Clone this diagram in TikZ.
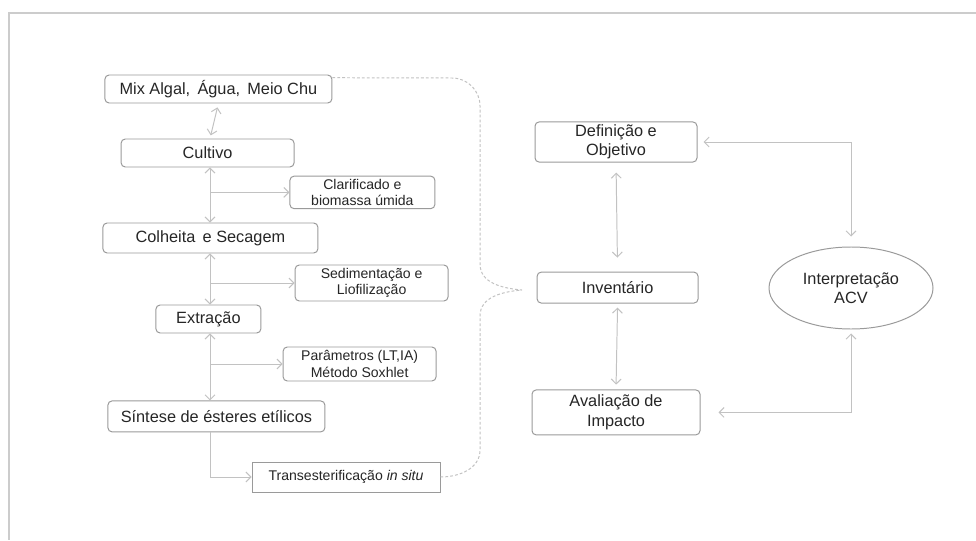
\documentclass[tikz,border=0pt]{standalone}
\usepackage{fontspec}
\setmainfont{Liberation Sans}
\usetikzlibrary{arrows.meta,calc,positioning,shapes.geometric}
\definecolor{BoxGray}{HTML}{9A9A9A}
\definecolor{LineGray}{HTML}{C2C2C2}
\definecolor{FrameGray}{HTML}{CCCCCC}
\definecolor{TextGray}{HTML}{262626}

\begin{document}
\begin{tikzpicture}[x=1cm,y=1cm,
    every node/.style={text=TextGray},
    stage/.style={draw=BoxGray,rounded corners=3pt,line width=0.7pt,minimum height=0.7cm,inner sep=2pt,align=center,font=\fontsize{11.6}{13.8}\selectfont},
    side/.style={stage,font=\fontsize{10}{11.8}\selectfont},
    link/.style={draw=LineGray,line width=0.7pt,-{Straight Barb[length=3.5pt,width=7pt]}},
    twoway/.style={link,{Straight Barb[length=3.5pt,width=7pt]}-{Straight Barb[length=3.5pt,width=7pt]}},
    brace/.style={draw=LineGray,line width=0.7pt,dash pattern=on 2pt off 1.5pt}]
    \fill[white] (0,0) rectangle (24.4,13.5);
    \useasboundingbox (0,0) rectangle (24.4,13.5);
    \draw[FrameGray,line width=1.4pt] (24.4,13.175) -- (0.225,13.175) -- (0.225,0);

    % production chain
    \node[stage,minimum width=5.675cm] (mix) at (5.46,11.275) {Mix Algal,\, Água,\, Meio Chu};
    \node[stage,minimum width=4.325cm] (cultivo) at (5.19,9.675) {Cultivo};
    \node[side,minimum width=3.625cm,minimum height=0.775cm] (clar) at (9.06,8.69) {Clarificado e\\biomassa úmida};
    \node[stage,minimum width=5.375cm,minimum height=0.75cm] (colheita) at (5.26,7.55) {Colheita\, e Secagem};
    \node[side,minimum width=3.825cm,minimum height=0.9cm] (sedim) at (9.29,6.425) {Sedimentação e\\Liofilização};
    \node[stage,minimum width=2.625cm] (extracao) at (5.21,5.525) {Extração};
    \node[side,minimum width=3.825cm,minimum height=0.85cm] (param) at (8.99,4.4) {Parâmetros (LT,IA)\\Método Soxhlet};
    \node[stage,minimum width=5.425cm,minimum height=0.775cm] (sintese) at (5.41,3.09) {Síntese de ésteres etílicos};
    \node[side,rounded corners=0pt,minimum width=4.7cm,minimum height=0.75cm] (trans) at (8.65,1.575) {Transesterificação \textit{in situ}};
    \coordinate (trunk) at (5.25,0);

    \draw[twoway,shorten <=0.1cm,shorten >=0.08cm] (mix.south) -- (cultivo.north -| trunk);
    \draw[twoway] (cultivo.south -| trunk) -- (colheita.north -| trunk);
    \draw[link] (clar.west -| trunk) -- (clar.west);
    \draw[twoway] (colheita.south -| trunk) -- (extracao.north -| trunk);
    \draw[link] (sedim.west -| trunk) -- (sedim.west);
    \draw[twoway] (extracao.south -| trunk) -- (sintese.north -| trunk);
    \draw[link] (param.west -| trunk) -- (param.west);
    \draw[link] (sintese.south -| trunk) |- (trans.west);

    % ACV phases
    \node[stage,minimum width=4.05cm,minimum height=1cm] (defin) at (15.4,9.95) {Definição e\\Objetivo};
    \node[stage,minimum width=4.025cm,minimum height=0.775cm] (invent) at (15.44,6.31) {Inventário};
    \node[stage,minimum width=4.2cm,minimum height=1.125cm] (aval) at (15.4,3.19) {Avaliação de\\Impacto};
    \node[draw=BoxGray,line width=0.7pt,ellipse,minimum width=4.1cm,minimum height=2.05cm,align=center,font=\fontsize{11.6}{13.8}\selectfont] (interp) at (21.275,6.3) {Interpretação\\ACV};

    \draw[twoway,shorten <=0.25cm,shorten >=0.35cm] (defin.south) -- (invent.north);
    \draw[twoway,shorten <=0.1cm,shorten >=0.12cm] (invent.south) -- (aval.north);
    \draw[twoway,shorten <=0.25cm,shorten >=0.15cm] (interp.north) |- (defin.east);
    \draw[twoway,shorten <=0.1cm,shorten >=0.45cm] (interp.south) |- (aval.east);

    % chain grouped into the inventory
    \coordinate (tip) at (13.05,6.25);
    \draw[brace] ([yshift=-0.08cm]mix.north east) -- (11.3,11.55) to[out=0,in=90] (12,10.85)
      -- (12,6.9) to[out=-90,in=175] (tip) to[out=185,in=90] (12,5.6)
      -- (12,2.25) to[out=-90,in=0] (trans.east);
\end{tikzpicture}
\end{document}
